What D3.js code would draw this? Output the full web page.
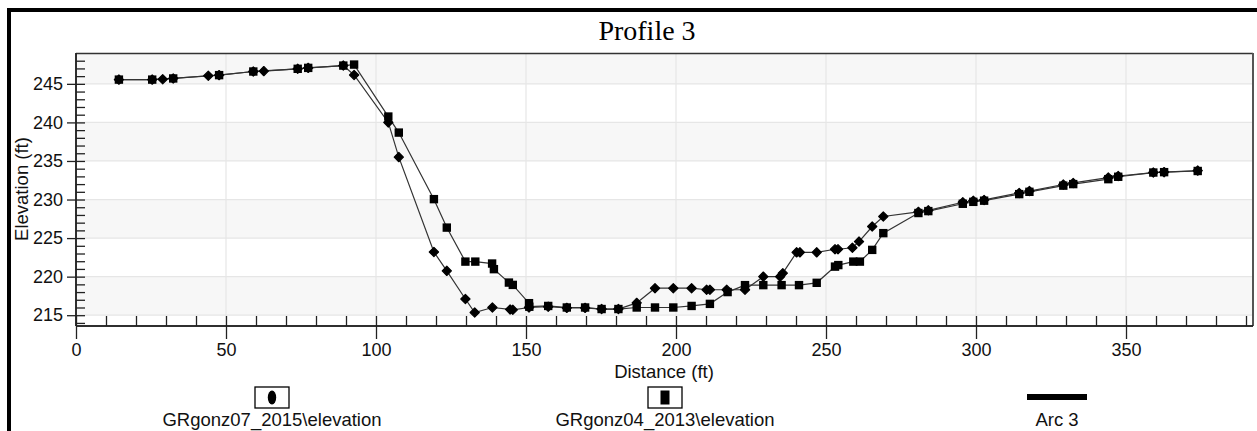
<!DOCTYPE html>
<html><head><meta charset="utf-8">
<script src="https://cdn.jsdelivr.net/npm/d3@7"></script>
<style>body{margin:0;background:#fff}svg{display:block}</style>
</head><body>
<script>
const title = "Profile 3";
const xLabel = "Distance (ft)";
const yLabel = "Elevation (ft)";
const xTicks = [0, 50, 100, 150, 200, 250, 300, 350];
const yTicks = [215, 220, 225, 230, 235, 240, 245];
const seriesNames = ["GRgonz07_2015\\elevation", "GRgonz04_2013\\elevation", "Arc 3"];

const dist2015 = [14.3,25.4,28.9,32.4,44.1,47.7,59.1,62.6,73.9,77.4,89.1,92.7,104.1,107.6,119.3,123.6,129.8,132.9,138.8,144.7,145.6,151.0,157.4,163.6,169.7,175.2,180.8,186.9,193.0,199.1,205.2,210.2,211.3,216.9,223.0,229.1,234.7,235.6,240.2,241.3,246.9,253.0,254.0,258.8,261.0,265.4,269.1,280.8,284.1,295.6,299.1,302.7,314.4,317.8,329.1,332.4,344.1,347.4,359.1,362.7,373.9];
const elev2015 = [245.55,245.55,245.6,245.7,246.05,246.13,246.6,246.65,246.95,247.07,247.37,246.15,240.0,235.5,223.2,220.75,217.1,215.35,216.0,215.75,215.7,216.0,216.1,215.95,215.95,215.8,215.8,216.6,218.5,218.5,218.5,218.3,218.3,218.3,218.3,220.0,220.0,220.45,223.15,223.15,223.15,223.55,223.55,223.75,224.55,226.5,227.8,228.4,228.6,229.65,229.85,229.95,230.85,231.1,231.95,232.15,232.85,233.05,233.5,233.55,233.75];

const dist2013 = [14.3,25.4,32.4,47.7,59.1,73.9,77.4,89.1,92.7,104.1,107.6,119.3,123.6,129.8,133.1,138.7,139.3,144.3,145.6,151.0,151.1,157.4,163.6,169.7,175.2,180.8,186.9,193.0,199.1,205.2,211.3,217.2,223.0,229.1,235.2,241.0,246.9,253.0,254.1,259.1,261.3,265.4,269.1,280.8,284.1,295.6,299.1,302.7,314.4,317.8,329.1,332.4,344.1,347.4,359.1,362.7,373.9];
const elev2013 = [245.55,245.55,245.7,246.13,246.6,246.95,247.07,247.37,247.5,240.76,238.68,230.05,226.36,221.95,221.95,221.7,220.97,219.23,218.93,216.56,216.1,216.2,216.0,216.0,215.8,215.8,216.0,216.0,216.0,216.2,216.47,218.0,218.9,218.9,218.9,218.9,219.2,221.3,221.5,221.95,221.95,223.47,225.64,228.25,228.5,229.45,229.7,229.85,230.7,231.0,231.8,232.0,232.64,232.95,233.5,233.55,233.7];

const W = 1257, H = 431;
const L = 76, R = 1253, T = 53, B = 326;
const svg = d3.select("body").append("svg").attr("width", W).attr("height", H)
  .style("font-family", "'Liberation Sans', Arial, sans-serif");

const x = d3.scaleLinear().domain([0, 392.33]).range([L, R]);
const y = d3.scaleLinear().domain([213.6, 249]).range([B, T]);

// outer frame
svg.append("rect").attr("x", 7).attr("y", 8).attr("width", W - 7).attr("height", 4).attr("fill", "#000");
svg.append("rect").attr("x", 7).attr("y", 8).attr("width", 4).attr("height", H - 8).attr("fill", "#000");

// title
svg.append("text").attr("x", 647).attr("y", 40).attr("text-anchor", "middle")
  .style("font-family", "'Liberation Serif', 'Times New Roman', serif").style("font-size", "28px")
  .text(title);

// bands
const bandEdges = [215, 220, 225, 230, 235, 240, 245, 249];
for (let i = 0; i < bandEdges.length - 1; i++) {
  if (i % 2 === 0) {
    svg.append("rect").attr("x", L).attr("width", R - L)
      .attr("y", y(bandEdges[i + 1])).attr("height", y(bandEdges[i]) - y(bandEdges[i + 1]))
      .attr("fill", "#f7f7f7");
  }
}
// grid
svg.append("g").selectAll("line").data(yTicks).join("line")
  .attr("x1", L).attr("x2", R).attr("y1", d => y(d)).attr("y2", d => y(d))
  .attr("stroke", "#e6e6e6").attr("stroke-width", 1.2);
svg.append("g").selectAll("line").data(xTicks.slice(1)).join("line")
  .attr("x1", d => x(d)).attr("x2", d => x(d)).attr("y1", T).attr("y2", B)
  .attr("stroke", "#e6e6e6").attr("stroke-width", 1.2);

// plot frame top & right
svg.append("line").attr("x1", L).attr("x2", R).attr("y1", T + 0.5).attr("y2", T + 0.5).attr("stroke", "#333").attr("stroke-width", 1.3);
svg.append("line").attr("x1", R).attr("x2", R).attr("y1", T).attr("y2", B).attr("stroke", "#555").attr("stroke-width", 2);

// axes
const minorX = d3.range(0, 392, 10);
const minorY = d3.range(214, 249, 1);
const gxMinor = svg.append("g").attr("transform", `translate(0,${B})`)
  .call(d3.axisBottom(x).tickValues(minorX).tickSize(-10).tickFormat(""));
const gxMajor = svg.append("g").attr("transform", `translate(0,${B})`)
  .call(d3.axisBottom(x).tickValues(xTicks).tickSize(13).tickPadding(4).tickFormat(d3.format("d")));
const gyMinor = svg.append("g").attr("transform", `translate(${L},0)`)
  .call(d3.axisLeft(y).tickValues(minorY).tickSize(-9).tickFormat(""));
const gyMajor = svg.append("g").attr("transform", `translate(${L},0)`)
  .call(d3.axisLeft(y).tickValues(yTicks).tickSize(9).tickPadding(4).tickFormat(d3.format("d")));
[gxMinor, gxMajor, gyMinor, gyMajor].forEach(g => {
  g.selectAll(".domain").attr("stroke", "#222").attr("stroke-width", 1.5);
  g.selectAll(".tick line").attr("stroke", "#222").attr("stroke-width", 1.3);
  g.selectAll("text").attr("fill", "#111").style("font-size", "18px")
    .style("font-family", "'Liberation Sans', Arial, sans-serif");
});
gxMajor.selectAll(".domain").attr("d", `M${L},0H${R}`);
gyMajor.selectAll(".domain").attr("d", `M0,${T}V${B}`);
gxMinor.selectAll(".domain").attr("d", `M${L},0H${R}`);
gyMinor.selectAll(".domain").attr("d", `M0,${T}V${B}`);

// axis labels
svg.append("text").attr("x", 664).attr("y", 378).attr("text-anchor", "middle")
  .style("font-size", "18.5px").attr("fill", "#111").text(xLabel);
svg.append("text").attr("transform", "translate(28,189) rotate(-90)").attr("text-anchor", "middle")
  .style("font-size", "18.5px").attr("fill", "#111").text(yLabel);

// series
const s2015 = dist2015.map((d, i) => [d, elev2015[i]]);
const s2013 = dist2013.map((d, i) => [d, elev2013[i]]);
const line = d3.line().x(d => x(d[0])).y(d => y(d[1]));
svg.append("path").datum(s2015).attr("d", line).attr("fill", "none").attr("stroke", "#333").attr("stroke-width", 1.2);
svg.append("path").datum(s2013).attr("d", line).attr("fill", "none").attr("stroke", "#333").attr("stroke-width", 1.2);
const diamond = "M0,-4.6L4.6,0L0,4.6L-4.6,0Z";
svg.append("g").selectAll("path").data(s2015).join("path")
  .attr("transform", d => `translate(${x(d[0])},${y(d[1])})`).attr("d", diamond)
  .attr("fill", "#000").attr("stroke", "#000").attr("stroke-width", 1.2).attr("stroke-linejoin", "round");
svg.append("g").selectAll("rect").data(s2013).join("rect")
  .attr("x", d => x(d[0]) - 4.2).attr("y", d => y(d[1]) - 4.2).attr("width", 8.4).attr("height", 8.4)
  .attr("fill", "#000");

// legend
const leg = svg.append("g");
const legX = [272, 665, 1057];
[0, 1].forEach(i => {
  leg.append("rect").attr("x", legX[i] - 17).attr("y", 387).attr("width", 34).attr("height", 21)
    .attr("fill", "#fff").attr("stroke", "#000").attr("stroke-width", 1.3);
});
leg.append("ellipse").attr("cx", legX[0]).attr("cy", 397.5).attr("rx", 4.2).attr("ry", 7).attr("fill", "#000");
leg.append("rect").attr("x", legX[1] - 4.5).attr("y", 390.5).attr("width", 9).attr("height", 14).attr("fill", "#000");
leg.append("rect").attr("x", legX[2] - 30).attr("y", 394).attr("width", 60).attr("height", 6).attr("fill", "#000");
seriesNames.forEach((n, i) => {
  leg.append("text").attr("x", legX[i]).attr("y", 426).attr("text-anchor", "middle")
    .style("font-size", "18.5px").attr("fill", "#111").text(n);
});
</script>
</body></html>
